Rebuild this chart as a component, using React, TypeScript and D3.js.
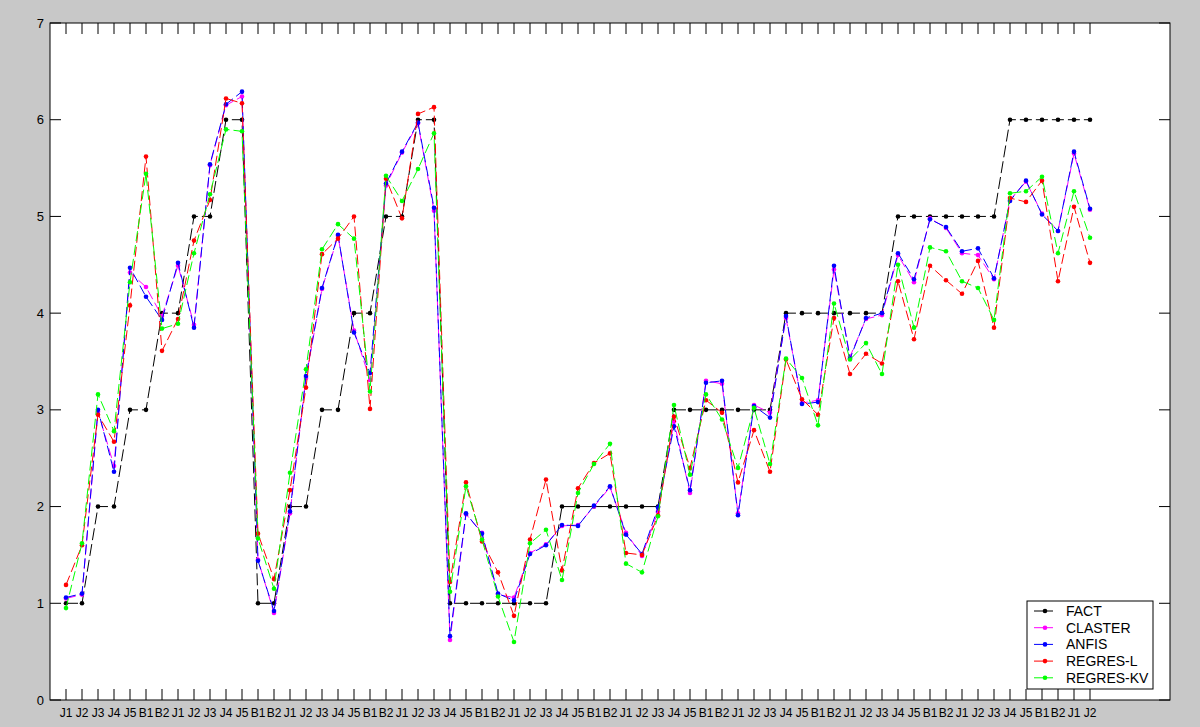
import { useMemo } from 'react';
import * as d3 from 'd3';

// Category labels along the x axis (one per observation)
const categories = [
	'J1', 'J2', 'J3', 'J4', 'J5', 'B1', 'B2',
	'J1', 'J2', 'J3', 'J4', 'J5', 'B1', 'B2',
	'J1', 'J2', 'J3', 'J4', 'J5', 'B1', 'B2',
	'J1', 'J2', 'J3', 'J4', 'J5', 'B1', 'B2',
	'J1', 'J2', 'J3', 'J4', 'J5', 'B1', 'B2',
	'J1', 'J2', 'J3', 'J4', 'J5', 'B1', 'B2',
	'J1', 'J2', 'J3', 'J4', 'J5', 'B1', 'B2',
	'J1', 'J2', 'J3', 'J4', 'J5', 'B1', 'B2',
	'J1', 'J2', 'J3', 'J4', 'J5', 'B1', 'B2',
	'J1', 'J2',
];

const fact = [
	1, 1, 2, 2, 3, 3, 4, 4, 5, 5, 6, 6,
	1, 1, 2, 2, 3, 3, 4, 4, 5, 5, 6, 6,
	1, 1, 1, 1, 1, 1, 1,
	2, 2, 2, 2, 2, 2, 2,
	3, 3, 3, 3, 3, 3, 3,
	4, 4, 4, 4, 4, 4, 4,
	5, 5, 5, 5, 5, 5, 5,
	6, 6, 6, 6, 6, 6,
];

const claster = [
	1.05, 1.09, 2.98, 2.42, 4.42, 4.27, 3.97, 4.49, 3.88, 5.53, 6.15, 6.24,
	1.45, 0.9, 1.93, 3.33, 4.25, 4.8, 3.82, 3.31, 5.32, 5.66, 5.96, 5.06,
	0.62, 1.92, 1.73, 1.09, 1.06, 1.52, 1.61, 1.8, 1.81, 2.0, 2.2, 1.73,
	1.49, 1.95, 2.88, 2.14, 3.3, 3.27, 1.93, 3.05, 2.97, 3.95, 3.07, 3.1,
	4.45, 3.55, 3.94, 3.98, 4.6, 4.32, 4.98, 4.88, 4.62, 4.6, 4.35, 5.17,
	5.36, 5.03, 4.85, 5.65, 5.07,
];

const anfis = [
	1.06, 1.1, 3.0, 2.36, 4.47, 4.17, 3.93, 4.52, 3.85, 5.54, 6.16, 6.29,
	1.44, 0.92, 1.95, 3.35, 4.26, 4.81, 3.8, 3.38, 5.34, 5.67, 5.97, 5.09,
	0.66, 1.93, 1.72, 1.1, 1.03, 1.51, 1.6, 1.81, 1.8, 2.01, 2.21, 1.71,
	1.51, 1.99, 2.83, 2.17, 3.28, 3.3, 1.91, 3.04, 2.92, 3.97, 3.06, 3.08,
	4.49, 3.53, 3.95, 4.0, 4.62, 4.35, 4.97, 4.89, 4.64, 4.67, 4.36, 5.16,
	5.37, 5.02, 4.85, 5.67, 5.08,
];

const regresL = [
	1.19, 1.6, 2.95, 2.67, 4.08, 5.62, 3.61, 3.94, 4.75, 5.17, 6.22, 6.17,
	1.72, 1.25, 2.17, 3.23, 4.61, 4.77, 5.0, 3.01, 5.39, 4.98, 6.06, 6.13,
	1.22, 2.25, 1.64, 1.32, 0.87, 1.66, 2.28, 1.34, 2.19, 2.45, 2.55, 1.52,
	1.5, 1.91, 2.93, 2.4, 3.1, 2.97, 2.25, 2.79, 2.36, 3.52, 3.11, 2.95,
	3.95, 3.37, 3.58, 3.48, 4.33, 3.73, 4.49, 4.34, 4.2, 4.54, 3.85, 5.19,
	5.15, 5.37, 4.33, 5.1, 4.52,
];

const regresKV = [
	0.95, 1.62, 3.16, 2.78, 4.32, 5.44, 3.84, 3.89, 4.62, 5.23, 5.9, 5.88,
	1.67, 1.15, 2.35, 3.42, 4.66, 4.92, 4.77, 3.19, 5.42, 5.16, 5.49, 5.86,
	1.12, 2.21, 1.66, 1.07, 0.6, 1.62, 1.76, 1.24, 2.14, 2.44, 2.65, 1.41,
	1.32, 1.9, 3.05, 2.33, 3.16, 2.9, 2.4, 3.02, 2.44, 3.53, 3.33, 2.84,
	4.1, 3.52, 3.69, 3.37, 4.5, 3.85, 4.68, 4.64, 4.33, 4.26, 3.93, 5.24,
	5.26, 5.41, 4.62, 5.26, 4.78,
];

const yTicks = [0, 1, 2, 3, 4, 5, 6, 7];

// Series in legend (and drawing) order
const series = [
	{ name: 'FACT', values: fact, color: '#000000', dash: '12,4' },
	{ name: 'CLASTER', values: claster, color: '#ff00ff', dash: '10,4' },
	{ name: 'ANFIS', values: anfis, color: '#0000ff', dash: '10,4' },
	{ name: 'REGRES-L', values: regresL, color: '#ff0000', dash: '10,4' },
	{ name: 'REGRES-KV', values: regresKV, color: '#00ff00', dash: '10,4' },
];

const WIDTH = 1200;
const HEIGHT = 727;
const FONT = '"Liberation Sans", Arial, sans-serif';

export default function App() {
	// MATLAB-like axes box
	const left = 50;
	const right = 1170;
	const top = 23;
	const bottom = 700;
	const tickLen = 11;

	const x = useMemo(() => d3.scaleLinear().domain([0, 70]).range([left, right]), []);
	const y = useMemo(() => d3.scaleLinear().domain([0, 7]).range([bottom, top]), []);

	const line = useMemo(
		() =>
			d3
				.line<number>()
				.x((_, i) => x(i + 1))
				.y((d) => y(d)),
		[x, y]
	);

	const xTicks = categories.map((label, i) => ({ label, pos: x(i + 1) }));

	// Legend box geometry
	const lg = { x: 1027, y: 601, w: 126, h: 88, row: 16.7 };

	return (
		<svg
			width={WIDTH}
			height={HEIGHT}
			style={{ position: 'absolute', left: 0, top: 0, fontFamily: FONT }}
		>
			<rect x={0} y={0} width={WIDTH} height={HEIGHT} fill="#c8c8c8" />
			<rect x={left} y={top} width={right - left} height={bottom - top} fill="#ffffff" />

			{/* x ticks, bottom and top, pointing inward */}
			{xTicks.map((t, i) => (
				<g key={`xt-${i}`}>
					<line x1={t.pos} x2={t.pos} y1={bottom} y2={bottom - tickLen} stroke="#000" />
					<line x1={t.pos} x2={t.pos} y1={top} y2={top + tickLen} stroke="#000" />
					<text x={t.pos} y={717} fontSize={12} textAnchor="middle" fill="#000">
						{t.label}
					</text>
				</g>
			))}

			{/* y ticks, left and right */}
			{yTicks.map((v) => (
				<g key={`yt-${v}`}>
					<line x1={left} x2={left + tickLen} y1={y(v)} y2={y(v)} stroke="#000" />
					<line x1={right} x2={right - tickLen} y1={y(v)} y2={y(v)} stroke="#000" />
					<text x={44} y={y(v) + 4.5} fontSize={13} textAnchor="end" fill="#000">
						{v}
					</text>
				</g>
			))}

			{/* series */}
			{series.map((s) => (
				<g key={s.name}>
					<path
						d={line(s.values) ?? ''}
						fill="none"
						stroke={s.color}
						strokeWidth={1}
						strokeDasharray={s.dash}
					/>
					{s.values.map((v, i) => (
						<circle key={i} cx={x(i + 1)} cy={y(v)} r={2.3} fill={s.color} />
					))}
				</g>
			))}

			{/* axes box */}
			<rect
				x={left}
				y={top}
				width={right - left}
				height={bottom - top}
				fill="none"
				stroke="#000"
				strokeWidth={1}
			/>

			{/* legend */}
			<rect x={lg.x} y={lg.y} width={lg.w} height={lg.h} fill="#ffffff" stroke="#000" />
			{series.map((s, i) => {
				const cy = lg.y + 10 + i * lg.row;
				return (
					<g key={`lg-${s.name}`}>
						<line x1={lg.x + 7} x2={lg.x + 26} y1={cy} y2={cy} stroke={s.color} />
						<circle cx={lg.x + 18} cy={cy} r={2.3} fill={s.color} />
						<text x={lg.x + 39} y={cy + 5} fontSize={14} fill="#000">
							{s.name}
						</text>
					</g>
				);
			})}
		</svg>
	);
}
